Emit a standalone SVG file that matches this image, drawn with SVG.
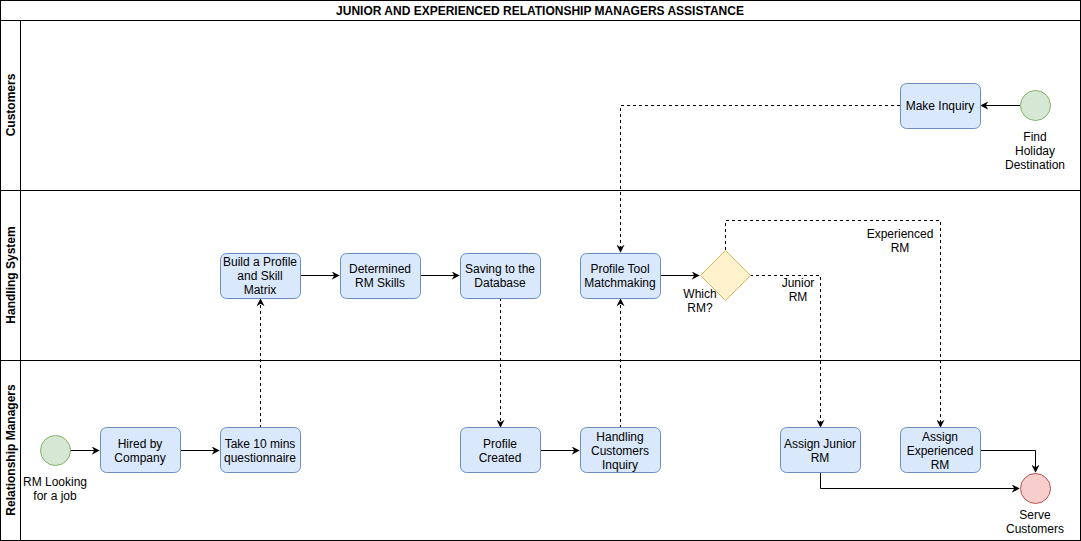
<svg xmlns="http://www.w3.org/2000/svg" width="1081" height="541" viewBox="0 0 1081 541">
<style>
text{font-family:"Liberation Sans",Arial,sans-serif;font-size:12px;fill:#000;text-anchor:middle}
.b{font-weight:bold}
.task{fill:#dae8fc;stroke:#6c8ebf;stroke-width:1}
.start{fill:#d5e8d4;stroke:#82b366}
.end{fill:#f8cecc;stroke:#b85450}
.gw{fill:#fff2cc;stroke:#d6b656}
.lane{fill:none;stroke:#000;stroke-width:1}
.c{fill:none;stroke:#000;stroke-width:1}
.d{stroke-dasharray:3 3}
</style>
<defs>
<marker id="ah" viewBox="0 0 10 10" refX="9" refY="5" markerWidth="8" markerHeight="8" markerUnits="userSpaceOnUse" orient="auto">
<path d="M0,0 L10,5 L0,10 L3,5 Z" fill="#000"/>
</marker>
</defs>
<rect width="1081" height="541" fill="#fff"/>
<g id="pool">
<rect class="lane" x="0.5" y="0.5" width="1080" height="540"/>
<line class="lane" x1="0.5" y1="20.5" x2="1080.5" y2="20.5"/>
<line class="lane" x1="20.5" y1="20.5" x2="20.5" y2="540.5"/>
<line class="lane" x1="0.5" y1="190.5" x2="1080.5" y2="190.5"/>
<line class="lane" x1="0.5" y1="360.5" x2="1080.5" y2="360.5"/>
<text class="b" x="540" y="15">JUNIOR AND EXPERIENCED RELATIONSHIP MANAGERS ASSISTANCE</text>
<text class="b" transform="translate(14.5,105) rotate(-90)">Customers</text>
<text class="b" transform="translate(14.5,275) rotate(-90)">Handling System</text>
<text class="b" transform="translate(14.5,450) rotate(-90)">Relationship Managers</text>
</g>
<g id="connectors">
<path class="c" d="M1020,105.5 H981" marker-end="url(#ah)"/>
<path class="c d" d="M900,105.5 H620.5 V252" marker-end="url(#ah)"/>
<path class="c" d="M70,450.5 H99" marker-end="url(#ah)"/>
<path class="c" d="M180,450.5 H219" marker-end="url(#ah)"/>
<path class="c d" d="M260.5,428 V299" marker-end="url(#ah)"/>
<path class="c" d="M300,275.5 H339" marker-end="url(#ah)"/>
<path class="c" d="M420,275.5 H459" marker-end="url(#ah)"/>
<path class="c d" d="M500.5,298 V427" marker-end="url(#ah)"/>
<path class="c" d="M540,450.5 H579" marker-end="url(#ah)"/>
<path class="c d" d="M620.5,428 V299" marker-end="url(#ah)"/>
<path class="c" d="M660,275.5 H699" marker-end="url(#ah)"/>
<path class="c d" d="M750,275.5 H820.5 V427" marker-end="url(#ah)"/>
<path class="c d" d="M725.5,250 V220.5 H940.5 V427" marker-end="url(#ah)"/>
<path class="c" d="M820.5,473 V488.5 H1019" marker-end="url(#ah)"/>
<path class="c" d="M980,450.5 H1035.5 V472" marker-end="url(#ah)"/>
<text x="798" y="287">Junior</text>
<text x="798" y="301">RM</text>
<text x="900" y="238">Experienced</text>
<text x="900" y="252">RM</text>
</g>
<g id="find-holiday">
<circle class="start" cx="1035.5" cy="105.5" r="15"/>
<text x="1035" y="141">Find</text>
<text x="1035" y="155">Holiday</text>
<text x="1035" y="169">Destination</text>
</g>
<g id="make-inquiry">
<rect class="task" x="900.5" y="83.5" width="80" height="45" rx="6"/>
<text x="940" y="110">Make Inquiry</text>
</g>
<g id="build-profile">
<rect class="task" x="220.5" y="253.5" width="80" height="45" rx="6"/>
<text x="260" y="266">Build a Profile</text>
<text x="260" y="280">and Skill</text>
<text x="260" y="294">Matrix</text>
</g>
<g id="determined-skills">
<rect class="task" x="340.5" y="253.5" width="80" height="45" rx="6"/>
<text x="380" y="273">Determined</text>
<text x="380" y="287">RM Skills</text>
</g>
<g id="saving-db">
<rect class="task" x="460.5" y="253.5" width="80" height="45" rx="6"/>
<text x="500" y="273">Saving to the</text>
<text x="500" y="287">Database</text>
</g>
<g id="profile-tool">
<rect class="task" x="580.5" y="253.5" width="80" height="45" rx="6"/>
<text x="620" y="273">Profile Tool</text>
<text x="620" y="287">Matchmaking</text>
</g>
<g id="which-rm">
<path class="gw" d="M725.5,250.5 L750.5,275.5 L725.5,300.5 L700.5,275.5 Z"/>
<text x="700" y="298">Which</text>
<text x="700" y="312">RM?</text>
</g>
<g id="rm-looking">
<circle class="start" cx="55.5" cy="450.5" r="15"/>
<text x="55" y="486">RM Looking</text>
<text x="55" y="500">for a job</text>
</g>
<g id="hired">
<rect class="task" x="100.5" y="427.5" width="80" height="45" rx="6"/>
<text x="140" y="448">Hired by</text>
<text x="140" y="462">Company</text>
</g>
<g id="questionnaire">
<rect class="task" x="220.5" y="427.5" width="80" height="45" rx="6"/>
<text x="260" y="448">Take 10 mins</text>
<text x="260" y="462">questionnaire</text>
</g>
<g id="profile-created">
<rect class="task" x="460.5" y="427.5" width="80" height="45" rx="6"/>
<text x="500" y="448">Profile</text>
<text x="500" y="462">Created</text>
</g>
<g id="handling-inquiry">
<rect class="task" x="580.5" y="427.5" width="80" height="45" rx="6"/>
<text x="620" y="441">Handling</text>
<text x="620" y="455">Customers</text>
<text x="620" y="469">Inquiry</text>
</g>
<g id="assign-junior">
<rect class="task" x="780.5" y="427.5" width="80" height="45" rx="6"/>
<text x="820" y="448">Assign Junior</text>
<text x="820" y="462">RM</text>
</g>
<g id="assign-experienced">
<rect class="task" x="900.5" y="427.5" width="80" height="45" rx="6"/>
<text x="940" y="441">Assign</text>
<text x="940" y="455">Experienced</text>
<text x="940" y="469">RM</text>
</g>
<g id="serve-customers">
<circle class="end" cx="1035.5" cy="488.5" r="15"/>
<text x="1035" y="519">Serve</text>
<text x="1035" y="533">Customers</text>
</g>
</svg>
